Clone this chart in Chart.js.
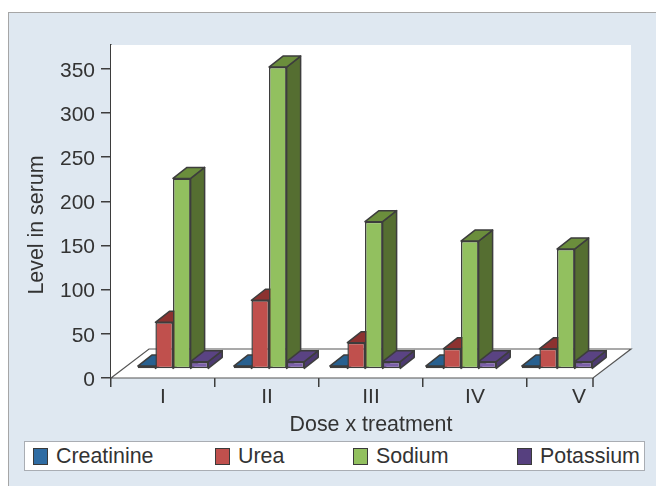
<!DOCTYPE html>
<html>
<head>
<meta charset="utf-8">
<title>Level in serum</title>
<script src="https://cdn.jsdelivr.net/npm/chart.js@4"></script>
<style>
    html, body { margin: 0; padding: 0; width: 656px; height: 486px; overflow: hidden; background: #ffffff; }
    #painel { position: absolute; left: 8px; top: 12px; width: 700px; height: 520px; background: #dfe8f1; border: 1.5px solid #a6a6a6; }
    #grafico { position: absolute; left: 0; top: 0; }
    #legenda { position: absolute; left: 24px; top: 441px; width: 621px; height: 30px; box-sizing: border-box; background: #ffffff;
        border: 1.5px solid #a9adb3; font: 21.4px "Liberation Sans", Arial, sans-serif; color: #333333; }
    #legenda span.item { position: absolute; top: 0; height: 29px; display: flex; align-items: center; white-space: nowrap; }
    #legenda span.caixa { width: 13px; height: 15px; margin-right: 8px; border: 1.5px solid #3a3a3a; }
</style>
</head>
<body>
<div id="painel"></div>
<canvas id="grafico" width="656" height="486"></canvas>
<div id="legenda"></div>
<script>
const doses = ['I', 'II', 'III', 'IV', 'V'];
const creatinine = [13.5, 13.5, 13.5, 13.5, 13.5];
const urea = [63, 88, 40, 33, 33];
const sodium = [226, 352, 177, 155, 146];
const potassium = [18.5, 18.5, 18.5, 18.5, 18.5];
const yTicks = [0, 50, 100, 150, 200, 250, 300, 350];

// the floor of the 3D box starts a bit above zero on the axis
const floorValue = 10.9;

const corText = '#333333';
const corLinha = '#3d3d3d';
const fonte = { family: '"Liberation Sans", Arial, sans-serif', size: 21 };
const fonteTitulo = { family: '"Liberation Sans", Arial, sans-serif', size: 21.4 };

const depthX = 14;
const depthY = 11;

// front, top, side
const cores = {
    Creatinine: ['#2f6ca3', '#28608f', '#234f78'],
    Urea: ['#c0504d', '#8c3230', '#742a28'],
    Sodium: ['#92c05f', '#6b8e3c', '#556e31'],
    Potassium: ['#7b5fa8', '#5a4383', '#4c3a70']
};
const corLegenda = { Creatinine: '#2f6ca3', Urea: '#c0504d', Sodium: '#92c05f', Potassium: '#56407f' };
const legendaLeft = { Creatinine: 8, Urea: 190, Sodium: 328, Potassium: 492 };

function montarSerie(nome, valores) {
    return {
        label: nome,
        data: valores.map(function (v, i) { return { x: i, y: v }; }),
        xAxisID: 'xBars',
        yAxisID: 'y',
        base: floorValue,
        backgroundColor: cores[nome][0],
        borderColor: corLinha,
        borderWidth: 1.5,
        borderSkipped: false
    };
}

function poligono(ctx, pontos, cor) {
    ctx.beginPath();
    ctx.moveTo(pontos[0][0], pontos[0][1]);
    for (let i = 1; i < pontos.length; i++) {
        ctx.lineTo(pontos[i][0], pontos[i][1]);
    }
    ctx.closePath();
    ctx.fillStyle = cor;
    ctx.fill();
    ctx.stroke();
}

// white wall and floor behind the bars, then the bars with top and side
const caixa3d = {
    id: 'caixa3d',
    beforeDatasetsDraw(chart) {
        const ctx = chart.ctx;
        const a = chart.chartArea;
        const floorDx = 38;
        const floorDy = 29;
        ctx.save();
        ctx.fillStyle = '#ffffff';
        ctx.beginPath();
        ctx.moveTo(a.left, a.top);
        ctx.lineTo(a.right, a.top);
        ctx.lineTo(a.right, a.bottom - floorDy);
        ctx.lineTo(a.right - floorDx, a.bottom);
        ctx.lineTo(a.left, a.bottom);
        ctx.closePath();
        ctx.fill();

        ctx.strokeStyle = '#555555';
        ctx.lineWidth = 1.2;
        ctx.beginPath();
        ctx.moveTo(a.left, a.bottom);
        ctx.lineTo(a.left + floorDx, a.bottom - floorDy);
        ctx.lineTo(a.right, a.bottom - floorDy);
        ctx.lineTo(a.right - floorDx, a.bottom);
        ctx.lineTo(a.left, a.bottom);
        ctx.stroke();

        // last tick sits on the front corner of the floor
        ctx.strokeStyle = corLinha;
        ctx.lineWidth = 1.5;
        ctx.beginPath();
        ctx.moveTo(a.right - floorDx, a.bottom);
        ctx.lineTo(a.right - floorDx, a.bottom + 9);
        ctx.stroke();
        ctx.restore();
    },
    // chart.js paints the last dataset first, here it has to be left to right
    beforeDatasetDraw() {
        return false;
    },
    afterDatasetsDraw(chart) {
        const ctx = chart.ctx;
        chart.data.datasets.forEach(function (ds, idx) {
            chart.getDatasetMeta(idx).data.forEach(function (barra) {
                barra.draw(ctx);
                const p = barra.getProps(['x', 'y', 'base', 'width'], true);
                const esq = p.x - p.width / 2;
                const dir = p.x + p.width / 2;
                ctx.save();
                ctx.strokeStyle = corLinha;
                ctx.lineWidth = 1.5;
                ctx.lineJoin = 'round';
                poligono(ctx, [[dir, p.y], [dir + depthX, p.y - depthY], [dir + depthX, p.base - depthY], [dir, p.base]], cores[ds.label][2]);
                poligono(ctx, [[esq, p.y], [esq + depthX, p.y - depthY], [dir + depthX, p.y - depthY], [dir, p.y]], cores[ds.label][1]);
                ctx.restore();
            });
        });
    },
    // y title sits lower than the middle of the axis
    afterDraw(chart) {
        const ctx = chart.ctx;
        ctx.save();
        ctx.translate(37, 225);
        ctx.rotate(-Math.PI / 2);
        ctx.fillStyle = corText;
        ctx.font = '21.4px "Liberation Sans", Arial, sans-serif';
        ctx.textAlign = 'center';
        ctx.textBaseline = 'middle';
        ctx.fillText('Level in serum', 0, 0);
        ctx.restore();
    }
};

const grafico = new Chart(document.getElementById('grafico').getContext('2d'), {
    type: 'bar',
    data: {
        labels: doses,
        datasets: [
            montarSerie('Creatinine', creatinine),
            montarSerie('Urea', urea),
            montarSerie('Sodium', sodium),
            montarSerie('Potassium', potassium)
        ]
    },
    plugins: [caixa3d],
    options: {
        responsive: false,
        animation: false,
        layout: { padding: { left: 25, right: 25, top: 45, bottom: 48 } },
        plugins: {
            legend: { display: false },
            tooltip: { enabled: false }
        },
        categoryPercentage: 0.734,
        barPercentage: 1,
        scales: {
            x: {
                type: 'category',
                labels: doses,
                offset: true,
                afterFit(scale) { scale.height = 60; },
                border: { display: false },
                grid: {
                    offset: true,
                    drawOnChartArea: false,
                    tickLength: 9,
                    lineWidth: 1.5,
                    color(ctx) { return ctx.tick ? corLinha : 'transparent'; }
                },
                ticks: { color: corText, font: fonte, padding: -2, maxRotation: 0 },
                title: { display: true, text: 'Dose x treatment', color: corText, font: fonteTitulo, padding: { top: 0, bottom: 0 } }
            },
            // the bars sit on a tighter spacing than the tick labels
            xBars: {
                type: 'linear',
                display: false,
                offset: false,
                min: -0.646,
                max: 4.771,
                ticks: { stepSize: 1, includeBounds: false }
            },
            y: {
                type: 'linear',
                min: 0,
                max: 377,
                afterFit(scale) { scale.width = 86; },
                afterBuildTicks(scale) { scale.ticks = yTicks.map(function (v) { return { value: v }; }); },
                border: { display: true, color: corLinha, width: 1.5 },
                grid: { drawOnChartArea: false, tickLength: 10, lineWidth: 1.5, color: corLinha },
                ticks: { color: corText, font: fonte, padding: 6, labelOffset: 2 }
            }
        }
    }
});

// legend in its own box
const legenda = document.getElementById('legenda');
grafico.data.datasets.forEach(function (ds) {
    const item = document.createElement('span');
    item.className = 'item';
    item.style.left = legendaLeft[ds.label] + 'px';
    const caixa = document.createElement('span');
    caixa.className = 'caixa';
    caixa.style.background = corLegenda[ds.label];
    item.appendChild(caixa);
    item.appendChild(document.createTextNode(ds.label));
    legenda.appendChild(item);
});
</script>
</body>
</html>
